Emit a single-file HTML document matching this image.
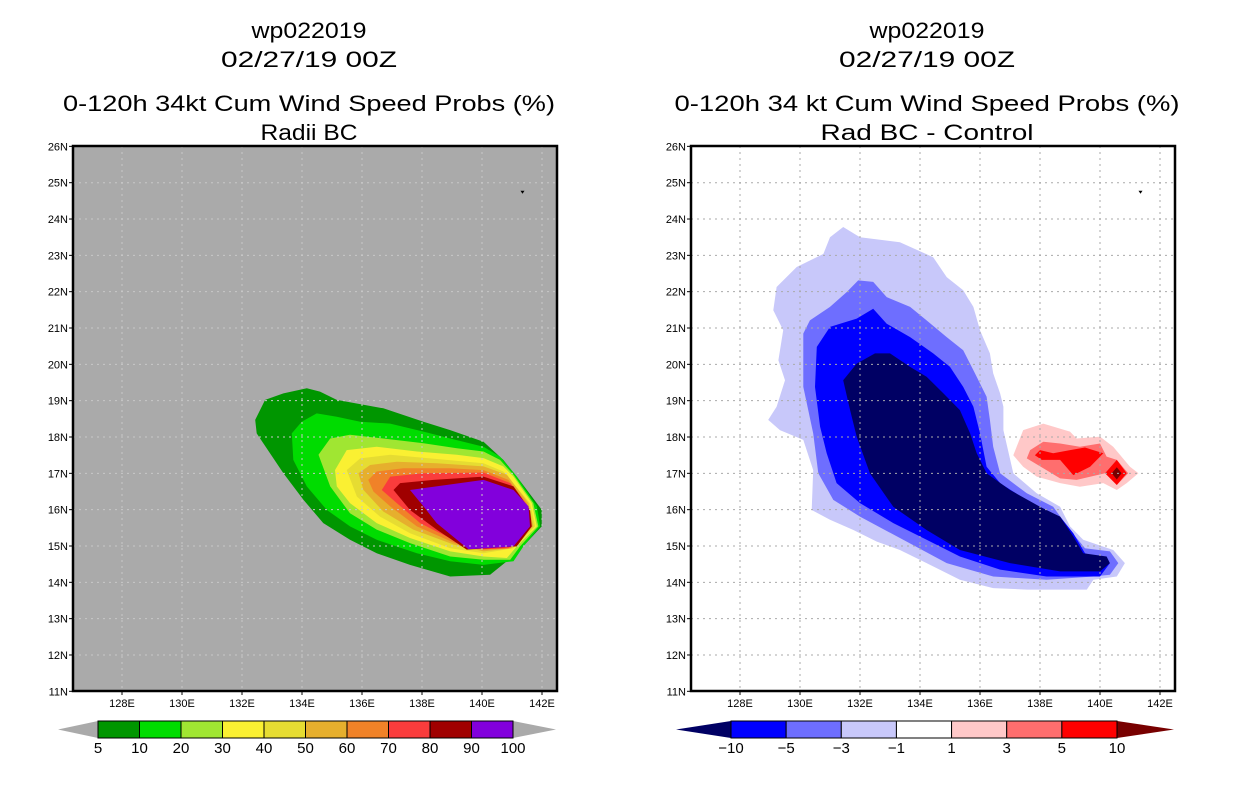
<!DOCTYPE html>
<html><head><meta charset="utf-8"><title>wp022019 wind speed probs</title>
<style>
html,body{margin:0;padding:0;background:#fff;}
svg{display:block;font-family:"Liberation Sans",sans-serif;}
</style></head>
<body>
<svg id="chart" width="1236" height="800" viewBox="0 0 1236 800"></svg>
<script>
// ---- data ----
const latTicks=[26,25,24,23,22,21,20,19,18,17,16,15,14,13,12,11];
const lonTicks=[128,130,132,134,136,138,140,142];
const probLevels=["5","10","20","30","40","50","60","70","80","90","100"];
const probColors=["#009600","#00dc00","#a0e632","#faf032","#e6dc32","#e6af2d","#f08228","#fa3c3c","#a00000","#8200dc"];
const diffLevels=["-10","-5","-3","-1","1","3","5","10"];
const diffColors=["#0000ff","#6e6eff","#c8c8fa","#ffffff","#ffc8c8","#ff6e6e","#ff0000"];
const diffTips=["#000064","#780000"];
// left panel contours [lon,lat]
const p5=[[132.44,18.47],[132.77,19.02],[133.38,19.2],[134.16,19.34],[134.6,19.25],[135.16,19.02],[136.71,18.79],[138.05,18.42],[138.94,18.19],[140.05,17.87],[140.71,17.37],[141.16,16.91],[141.99,16.0],[141.99,15.54],[141.16,14.8],[140.27,14.21],[138.94,14.16],[137.6,14.48],[136.49,14.8],[135.6,15.17],[134.71,15.63],[134.05,16.27],[133.38,17.0],[132.71,17.83],[132.49,18.1]];
const p10=[[133.66,18.1],[133.99,18.42],[134.49,18.65],[135.16,18.56],[135.94,18.42],[136.94,18.37],[138.05,18.15],[138.94,17.96],[140.05,17.73],[140.6,17.46],[141.16,16.91],[141.83,16.09],[141.94,15.54],[141.38,14.99],[141.05,14.58],[140.05,14.48],[138.94,14.58],[137.83,14.8],[136.49,15.17],[135.6,15.54],[134.83,15.99],[134.16,16.64],[133.71,17.37]];
const p20=[[134.55,17.51],[134.94,17.96],[135.6,18.06],[136.71,17.96],[138.05,17.83],[139.16,17.69],[140.05,17.6],[140.6,17.37],[141.05,16.96],[141.71,16.18],[141.88,15.54],[141.27,14.99],[140.94,14.62],[140.05,14.62],[138.94,14.71],[137.6,15.08],[136.49,15.45],[135.6,15.9],[134.94,16.64]];
const p30=[[135.1,17.09],[135.49,17.64],[136.49,17.73],[137.83,17.6],[139.16,17.51],[140.05,17.42],[140.71,17.19],[141.05,16.91],[141.66,16.18],[141.83,15.54],[141.16,14.99],[140.83,14.67],[140.05,14.71],[138.94,14.85],[137.6,15.22],[136.49,15.63],[135.6,16.18],[135.16,16.64]];
const p40=[[135.49,17.09],[135.94,17.41],[136.94,17.51],[138.27,17.41],[140.05,17.28],[140.71,17.05],[141.6,16.18],[141.77,15.54],[141.05,14.94],[140.05,14.8],[138.94,14.94],[137.6,15.35],[136.6,15.81],[135.83,16.36]];
const p50=[[135.88,17.0],[136.27,17.23],[137.16,17.32],[138.49,17.28],[140.05,17.19],[140.83,16.96],[141.55,16.18],[141.71,15.54],[140.99,14.94],[140.05,14.85],[139.05,15.04],[137.71,15.45],[136.71,15.95],[136.05,16.54]];
const p60=[[136.21,16.82],[136.49,17.05],[137.38,17.14],[138.94,17.14],[140.05,17.09],[140.88,16.82],[141.49,16.18],[141.66,15.54],[140.94,14.94],[140.05,14.9],[139.1,15.08],[137.83,15.54],[136.94,16.09],[136.38,16.5]];
const p70=[[136.66,16.54],[136.94,16.91],[138.05,17.0],[140.05,17.02],[140.94,16.73],[141.44,16.18],[141.6,15.54],[140.88,14.94],[140.05,14.91],[139.16,15.12],[137.94,15.63],[137.16,16.18]];
const p80=[[137.05,16.54],[137.27,16.73],[138.38,16.82],[140.05,16.91],[141.05,16.64],[141.6,15.99],[141.66,15.54],[141.16,14.99],[139.49,14.9],[138.49,15.45],[137.6,15.99]];
const p90=[[137.6,16.54],[140.05,16.82],[141.05,16.54],[141.55,16.09],[141.6,15.54],[141.05,14.99],[139.55,14.91],[138.49,15.63],[138.05,16.09]];
// right panel contours
const dm1=[[131.44,23.78],[132.0,23.5],[133.33,23.36],[134.44,22.95],[134.89,22.4],[135.44,22.04],[135.78,21.58],[136.0,20.94],[136.33,20.3],[136.44,19.75],[136.67,19.2],[136.78,18.83],[136.78,18.19],[137.11,17.0],[137.89,16.45],[138.67,16.08],[139.0,15.54],[139.44,15.17],[140.44,14.89],[140.83,14.53],[140.56,14.16],[139.78,14.07],[139.56,13.8],[137.56,13.8],[136.44,13.84],[135.33,14.07],[134.22,14.53],[133.33,14.89],[132.56,15.12],[131.78,15.44],[131.0,15.72],[130.39,15.99],[130.44,17.09],[130.11,17.92],[129.33,18.19],[128.94,18.47],[129.22,18.83],[129.5,19.56],[129.28,20.11],[129.44,20.94],[129.11,21.49],[129.22,22.13],[129.89,22.68],[130.78,23.04],[131.0,23.5]];
const dm3=[[131.94,22.31],[132.44,22.27],[132.89,21.85],[133.67,21.58],[134.22,21.21],[134.89,20.75],[135.44,20.39],[135.78,19.84],[136.22,19.11],[136.33,18.47],[136.44,17.73],[136.67,17.0],[137.56,16.45],[138.44,16.08],[139.0,15.44],[139.5,14.94],[140.33,14.85],[140.61,14.53],[140.33,14.21],[139.78,14.16],[138.22,14.07],[136.44,14.16],[134.89,14.53],[133.44,15.17],[132.0,15.81],[131.11,16.27],[130.61,17.0],[130.44,18.1],[130.11,19.38],[130.11,20.85],[130.33,21.21],[131.0,21.58],[131.56,21.99]];
const dm5=[[132.44,21.53],[132.89,21.12],[133.67,20.75],[134.44,20.3],[135.0,19.93],[135.44,19.38],[135.78,18.83],[136.0,18.1],[136.22,17.18],[136.67,16.73],[137.89,16.08],[138.67,15.81],[139.11,15.35],[139.5,14.8],[140.33,14.53],[140.0,14.16],[138.22,14.16],[136.67,14.35],[135.33,14.71],[134.22,15.17],[133.11,15.63],[132.0,16.18],[131.22,16.73],[130.89,17.55],[130.67,18.28],[130.5,19.38],[130.56,20.48],[131.0,21.03],[131.89,21.26]];
const dm10=[[132.5,20.3],[133.0,20.3],[133.67,19.93],[134.22,19.66],[134.78,19.2],[135.33,18.74],[135.67,18.1],[135.89,17.55],[136.22,17.0],[137.0,16.54],[138.0,16.08],[138.67,15.81],[139.11,15.26],[139.44,14.8],[140.22,14.71],[140.33,14.53],[140.0,14.3],[138.67,14.3],[137.0,14.53],[135.33,14.89],[134.22,15.44],[133.11,16.08],[132.33,17.0],[131.89,18.01],[131.67,18.74],[131.44,19.56],[131.89,20.02]];
const dp1=[[137.44,18.19],[138.11,18.37],[139.0,18.15],[139.22,17.96],[140.0,18.01],[140.44,17.73],[141.0,17.18],[141.28,17.0],[140.89,16.73],[140.56,16.54],[140.11,16.73],[139.33,16.63],[138.67,16.73],[137.89,16.91],[137.44,17.18],[137.11,17.5]];
const dp3=[[137.67,17.64],[138.11,17.87],[138.67,17.82],[139.33,17.73],[140.0,17.82],[140.22,17.46],[140.56,17.37],[140.94,17.0],[140.56,16.68],[140.17,17.0],[139.22,16.82],[138.67,16.86],[138.11,17.14],[137.56,17.41]];
const dp5a=[[137.83,17.5],[138.0,17.64],[138.44,17.55],[139.0,17.64],[139.5,17.71],[140.11,17.55],[139.67,17.18],[139.11,16.95],[138.67,17.37],[138.06,17.37]];
const dp5b=[[140.56,17.37],[140.89,17.0],[140.56,16.68],[140.17,17.0]];
const dp10=[[140.56,17.17],[140.72,17.0],[140.56,16.83],[140.39,17.0]];
const stormMark=[141.35,24.75];

// ---- axes ----
const NS="http://www.w3.org/2000/svg";
const svg=document.getElementById('chart');
const PX0=73,PY0=146,PW=484,PH=545;
function xL(lon){return 542+(lon-142)*30;}
function yL(lat){return 437-(lat-18)*36.33;}
function mk(tag,attrs,parent){const e=document.createElementNS(NS,tag);for(const k in attrs)e.setAttribute(k,attrs[k]);(parent||svg).appendChild(e);return e;}
function ptsStr(arr,off){return arr.map(p=>(xL(p[0])+off).toFixed(1)+","+yL(p[1]).toFixed(1)).join(" ");}

function panel(off,bg,gridColor,title3,title4,t3len,t4len,contours,name){
  const g=mk('g',{});
  
  
  const cx=off+309;
  const tl=[["wp022019",30,"title-storm-id",115],["02/27/19 00Z",59,"title-date",176],[title3,103,"title-product",t3len],[title4,132,"title-subtitle",t4len]];
  tl.forEach((t,i)=>{const e=mk('text',{x:cx,y:t[1]+8,'text-anchor':'middle','font-size':22,fill:'#000',textLength:t[3],lengthAdjust:'spacingAndGlyphs'},g);
    
    
    e.textContent=t[0];});
  const clipId='clip'+off;
  const cp=mk('clipPath',{id:clipId},g);mk('rect',{x:PX0+off,y:PY0,width:PW,height:PH},cp);
  const bgr=mk('rect',{x:PX0+off,y:PY0,width:PW,height:PH,fill:bg},g);
  
  
  const cg=mk('g',{'clip-path':'url(#'+clipId+')'},g);
  contours.forEach(c=>{const p=mk('polygon',{points:ptsStr(c[0],off),fill:c[1]},cg);
    
    });
  lonTicks.forEach(l=>{const ln=mk('line',{x1:xL(l)+off,x2:xL(l)+off,y1:PY0,y2:PY0+PH,stroke:gridColor,'stroke-width':1,'stroke-dasharray':'2,4'},cg);
    
    });
  latTicks.forEach(l=>{const ln=mk('line',{x1:PX0+off,x2:PX0+off+PW,y1:yL(l),y2:yL(l),stroke:gridColor,'stroke-width':1,'stroke-dasharray':'2,4'},cg);
    
    });
  const sx=xL(stormMark[0])+off,sy=yL(stormMark[1]);
  const sm=mk('polygon',{points:`${sx-2},${sy-1} ${sx+2},${sy-1} ${sx},${sy+2}`,fill:'#000'},g);
  
  
  const fr=mk('rect',{x:PX0+off,y:PY0,width:PW,height:PH,fill:'none',stroke:'#000','stroke-width':2.5},g);
  
  
  latTicks.forEach(l=>{mk('line',{x1:PX0+off-4,x2:PX0+off,y1:yL(l),y2:yL(l),stroke:'#000'},g);
    const t=mk('text',{x:PX0+off-5,y:yL(l)+4,'text-anchor':'end','font-size':11,fill:'#000'},g);
    
    
    t.textContent=l+"N";});
  lonTicks.forEach(l=>{mk('line',{x1:xL(l)+off,x2:xL(l)+off,y1:PY0+PH,y2:PY0+PH+4,stroke:'#000'},g);
    const t=mk('text',{x:xL(l)+off,y:PY0+PH+16,'text-anchor':'middle','font-size':11,fill:'#000'},g);
    
    
    t.textContent=l+"E";});
}
panel(0,'#aaaaaa','#c8c8c8',"0-120h 34kt Cum Wind Speed Probs (%)","Radii BC",492,97,
 [[p5,probColors[0],'contour-5'],[p10,probColors[1],'contour-10'],[p20,probColors[2],'contour-20'],[p30,probColors[3],'contour-30'],[p40,probColors[4],'contour-40'],[p50,probColors[5],'contour-50'],[p60,probColors[6],'contour-60'],[p70,probColors[7],'contour-70'],[p80,probColors[8],'contour-80'],[p90,probColors[9],'contour-90']],'left-panel');
panel(618,'#ffffff','#aaaaaa',"0-120h 34 kt Cum Wind Speed Probs (%)","Rad BC - Control",505,213,
 [[dm1,diffColors[2],'contour-minus1'],[dm3,diffColors[1],'contour-minus3'],[dm5,diffColors[0],'contour-minus5'],[dm10,diffTips[0],'contour-minus10'],[dp1,diffColors[4],'contour-plus1'],[dp3,diffColors[5],'contour-plus3'],[dp5a,diffColors[6],'contour-plus5-a'],[dp5b,diffColors[6],'contour-plus5-b'],[dp10,diffTips[1],'contour-plus10']],'right-panel');

// ---- colorbars ----
function colorbar(x0,x1,tipL,tipR,colors,tipColors,labels,name){
  const g=mk('g',{});
  
  
  const y0=721,y1=738,ym=(y0+y1)/2,n=colors.length,w=(x1-x0)/n;
  const tl=mk('polygon',{points:`${tipL},${ym} ${x0},${y0} ${x0},${y1}`,fill:tipColors[0]},g);
  
  
  const tr=mk('polygon',{points:`${tipR},${ym} ${x1},${y0} ${x1},${y1}`,fill:tipColors[1]},g);
  
  
  colors.forEach((c,i)=>{const r=mk('rect',{x:x0+i*w,y:y0,width:w,height:y1-y0,fill:c,stroke:'#000','stroke-width':1},g);
    
    });
  labels.forEach((l,i)=>{const t=mk('text',{x:x0+i*w,y:753,'text-anchor':'middle','font-size':15,fill:'#000'},g);
    
    
    t.textContent=l.replace('-','\u2212');});
}
colorbar(98,513,58,556,probColors,['#aaaaaa','#aaaaaa'],probLevels,'prob-colorbar');
colorbar(731,1117,676,1174,diffColors,diffTips,diffLevels,'diff-colorbar');
</script>
</body></html>
